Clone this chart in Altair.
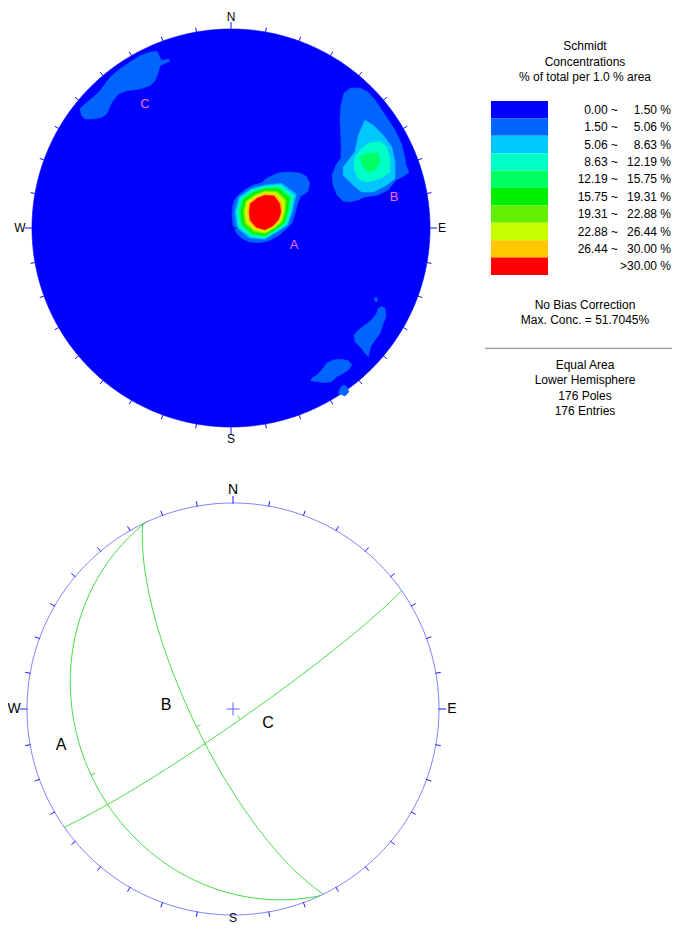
import numpy as np
import pandas as pd
import altair as alt

# ------------------------------------------------------------------ data
# concentration classes (legend), colours and text
LEVEL_COLORS = ["#0000ff", "#0064ff", "#00c8ff", "#00ffc8", "#00ff64",
                "#00ee00", "#64ee00", "#c8ff00", "#ffc800", "#ff0000"]
LEVEL_TEXT_LEFT = ["0.00 ~", "1.50 ~", "5.06 ~", "8.63 ~", "12.19 ~",
                   "15.75 ~", "19.31 ~", "22.88 ~", "26.44 ~", ""]
LEVEL_TEXT_RIGHT = ["1.50 %", "5.06 %", "8.63 %", "12.19 %", "15.75 %",
                    "19.31 %", "22.88 %", "26.44 %", "30.00 %", ">30.00 %"]
LEGEND_HEAD = ["Schmidt", "Concentrations", "% of total per 1.0 % area"]
LEGEND_MID = ["No Bias Correction", "Max. Conc. = 51.7045%"]
LEGEND_FOOT = ["Equal Area", "Lower Hemisphere", "176 Poles", "176 Entries"]

# contour outlines, net coordinates in % of net radius (x east, y north)
# cluster A: peak centre and contour radii at bearings 0,30,...,330 (ccw from east)
A_CENTER = (17.1, 8.0)
A_BEARINGS = [0, 30, 60, 90, 120, 150, 180, 210, 240, 270, 300, 330]
A_R_L9 = [8.0, 8.5, 9.3, 8.5, 8.0, 8.5, 8.0, 8.5, 8.8, 8.9, 8.0, 7.8]
A_R_L8 = [8.8, 9.8, 10.3, 9.3, 8.8, 9.5, 9.0, 9.5, 9.8, 9.5, 8.5, 8.5]
A_R_L7 = [9.5, 11.3, 11.3, 10.1, 9.5, 10.6, 10.1, 10.8, 10.6, 10.3, 9.0, 9.3]
A_R_L6 = [10.3, 12.6, 12.3, 10.8, 10.3, 11.3, 11.1, 11.8, 11.6, 10.9, 9.5, 10.1]
A_R_L5 = [11.1, 14.1, 13.3, 11.6, 11.1, 12.3, 12.1, 12.8, 12.3, 11.6, 10.1, 10.8]
A_R_L4 = [12.1, 15.3, 14.6, 12.1, 12.1, 13.3, 13.1, 13.8, 13.3, 12.3, 10.6, 11.6]
A_R_L3 = [12.8, 16.6, 15.6, 12.8, 12.8, 14.1, 14.1, 15.1, 14.1, 12.9, 11.1, 12.3]
A_R_L2 = [13.6, 18.1, 16.6, 13.6, 13.6, 15.1, 15.1, 16.1, 15.1, 13.6, 11.6, 13.1]
A_L1 = [(0.5, 6.7), (1.0, 11.7), (1.9, 14.2), (4.4, 17.1), (7.7, 19.7), (11.1, 21.5),
        (15.2, 22.6), (18.2, 25.1), (23.6, 27.6), (28.6, 28.1), (34.5, 27.6), (37.8, 26.0),
        (39.5, 22.6), (38.7, 18.4), (35.0, 15.9), (33.3, 11.7), (32.0, 6.7), (30.7, 2.5),
        (27.3, -0.9), (23.6, -4.0), (18.6, -6.5), (14.4, -7.3), (9.4, -7.0), (5.2, -5.0),
        (2.7, -2.5), (1.0, 1.7)]
B_L1 = [(56.8, 67.8), (59.8, 70.1), (64.8, 70.4), (68.8, 68.3), (72.4, 64.3), (77.4, 56.8),
        (82.4, 49.2), (85.9, 41.7), (87.4, 35.2), (87.9, 31.7), (89.4, 28.1), (86.9, 26.1),
        (82.9, 24.1), (78.9, 19.1), (73.9, 16.6), (67.3, 15.6), (63.8, 14.1), (59.8, 13.1),
        (56.3, 13.6), (53.3, 16.6), (51.3, 21.6), (50.8, 26.6), (52.8, 31.7), (55.3, 35.2),
        (55.3, 44.2), (54.8, 54.3), (55.3, 61.8)]
B_L2 = [(67.3, 54.1), (64.0, 46.6), (62.3, 38.2), (56.4, 30.7), (56.4, 26.5), (61.5, 21.5),
        (65.7, 18.1), (71.5, 18.1), (78.2, 21.5), (82.4, 24.8), (82.4, 33.2), (80.8, 40.7),
        (76.5, 46.6), (71.5, 51.6)]
B_L3 = [(62.3, 35.7), (64.8, 39.0), (69.0, 42.4), (74.9, 43.6), (78.2, 40.7), (79.9, 34.8),
        (79.9, 28.1), (74.9, 24.8), (68.2, 23.1), (64.0, 24.8), (61.8, 29.8)]
B_L4 = [(64.8, 35.7), (68.2, 37.3), (74.0, 37.8), (74.9, 33.2), (72.4, 29.0), (69.0, 28.1),
        (66.2, 30.7)]
C_L1 = [(-75.9, 59.8), (-73.4, 62.3), (-69.2, 65.7), (-65.8, 69.0), (-60.8, 75.7), (-55.8, 79.9),
        (-50.8, 83.3), (-45.7, 86.6), (-40.7, 88.3), (-37.3, 88.8), (-35.7, 85.8), (-34.8, 84.1),
        (-31.5, 84.9), (-30.7, 83.8), (-35.7, 81.6), (-36.5, 78.2), (-38.2, 74.0), (-40.7, 71.5),
        (-45.7, 69.8), (-52.4, 69.0), (-56.6, 67.3), (-59.9, 63.2), (-62.5, 57.3), (-65.0, 55.6),
        (-69.2, 54.8), (-73.4, 54.8), (-75.0, 56.4)]
SE_L1_a = [(75.7, -39.5), (77.4, -40.4), (77.9, -44.6), (76.5, -47.9), (74.9, -52.9), (72.4, -56.3),
           (70.2, -59.6), (69.0, -64.6), (67.3, -63.0), (65.7, -60.5), (62.3, -57.1), (61.8, -53.8),
           (64.0, -51.3), (67.3, -48.7), (70.7, -46.2), (73.2, -42.9), (74.0, -40.4)]
SE_L1_b = [(71.9, -35.2), (73.4, -34.9), (73.6, -36.9), (72.4, -36.9)]
SE_L1_c = [(40.6, -75.5), (43.1, -73.9), (45.6, -71.4), (48.1, -68.0), (51.4, -66.3), (55.6, -66.0),
           (58.9, -66.7), (60.7, -68.8), (58.9, -71.4), (56.4, -73.0), (53.1, -74.7), (50.6, -77.2),
           (47.2, -77.7), (43.1, -77.2), (40.1, -76.7)]
SE_L1_d = [(53.9, -83.1), (54.8, -80.6), (56.4, -78.9), (58.1, -79.7), (59.3, -82.3), (57.3, -84.4)]

# cluster labels on the contour plot (net %)
SET_NAMES = ["A", "B", "C"]
SET_LABEL_X = [31.7, 81.9, -43.2]
SET_LABEL_Y = [-8.5, 15.7, 62.3]

# planes (great circles) of the lower plot
PLANE_DIP_DIR = [245, 244, 145]
PLANE_DIP = [25, 74, 85]
PLANE_LABEL_X = [-83.5, -32.5, 17.0]
PLANE_LABEL_Y = [-17.5, 1.9, -6.8]

CARDINALS = ["N", "E", "S", "W"]
CARDINAL_AZ = [0, 90, 180, 270]

# ------------------------------------------------------------------ layout
W, H = 664, 917
TOP_C, TOP_R = (223.0, 220.0), 199.0
BOT_C, BOT_R = (225.0, 701.0), 206.0
FONT = "Liberation Sans"

XS = alt.Scale(domain=[0, W], nice=False, zero=False)
YS = alt.Scale(domain=[0, H], nice=False, zero=False, reverse=True)


def X(f="x"):
    return alt.X(f"{f}:Q", scale=XS, axis=None)


def Y(f="y"):
    return alt.Y(f"{f}:Q", scale=YS, axis=None)


def net_px(c, r, x, y):
    x = np.asarray(x, float)
    y = np.asarray(y, float)
    return c[0] + r * x / 100.0, c[1] - r * y / 100.0


def poly_layer(df, color):
    return alt.Chart(df).mark_line(
        interpolate="linear-closed", fill=color, stroke=color, strokeWidth=0.6
    ).encode(x=X(), y=Y(), order="i:Q", detail="pid:N")


def text_layer(df, size, color="black", align="center", baseline="middle"):
    return alt.Chart(df).mark_text(
        font=FONT, fontSize=size, color=color, align=align, baseline=baseline
    ).encode(x=X(), y=Y(), text="t:N")


layers = []

# ---- top: contour plot
ang = np.radians(np.arange(0, 360, 1.0))
disc = pd.DataFrame({"x": TOP_C[0] + TOP_R * np.cos(ang),
                     "y": TOP_C[1] - TOP_R * np.sin(ang),
                     "i": np.arange(len(ang)), "pid": "disc"})
layers.append(poly_layer(disc, LEVEL_COLORS[0]))

polys = {lvl: [] for lvl in range(1, 10)}
polys[1] += [A_L1, B_L1, C_L1, SE_L1_a, SE_L1_b, SE_L1_c, SE_L1_d]
polys[2] += [B_L2]
polys[3] += [B_L3]
polys[4] += [B_L4]
a_rings = {2: A_R_L2, 3: A_R_L3, 4: A_R_L4, 5: A_R_L5, 6: A_R_L6,
           7: A_R_L7, 8: A_R_L8, 9: A_R_L9}
brg = np.radians(A_BEARINGS)
for lvl, rr in a_rings.items():
    rr = np.asarray(rr)
    polys[lvl].append(list(zip(A_CENTER[0] + rr * np.cos(brg), A_CENTER[1] + rr * np.sin(brg))))

for lvl in range(1, 10):
    rows = []
    for k, pts in enumerate(polys[lvl]):
        px, py = net_px(TOP_C, TOP_R, [p[0] for p in pts], [p[1] for p in pts])
        for i, (a, b) in enumerate(zip(px, py)):
            rows.append({"x": a, "y": b, "i": i, "pid": f"{lvl}_{k}"})
    layers.append(poly_layer(pd.DataFrame(rows), LEVEL_COLORS[lvl]))

# centre mark of the contour plot
cross_top = pd.DataFrame({"x": [TOP_C[0] - 6.5, TOP_C[0]], "x2": [TOP_C[0] + 6.5, TOP_C[0]],
                          "y": [TOP_C[1], TOP_C[1] - 6.5], "y2": [TOP_C[1], TOP_C[1] + 6.5]})
layers.append(alt.Chart(cross_top).mark_rule(color="#0000c8", strokeWidth=1).encode(
    x=X(), x2="x2:Q", y=Y(), y2="y2:Q"))


def tick_df(c, r, r_in, r_out_minor, r_out_major, skip=()):
    az = np.array([a for a in range(0, 360, 10) if a not in skip])
    rout = np.where(az % 90 == 0, r + r_out_major, r + r_out_minor)
    a = np.radians(az)
    return pd.DataFrame({"x": c[0] + (r + r_in) * np.sin(a), "y": c[1] - (r + r_in) * np.cos(a),
                         "x2": c[0] + rout * np.sin(a), "y2": c[1] - rout * np.cos(a)})


layers.append(alt.Chart(tick_df(TOP_C, TOP_R, -0.5, 4.5, 7.0)).mark_rule(
    color="#1010ff", strokeWidth=1).encode(x=X(), x2="x2:Q", y=Y(), y2="y2:Q"))

caz = np.radians(CARDINAL_AZ)
card_top = pd.DataFrame({"x": TOP_C[0] + (TOP_R + 12) * np.sin(caz),
                         "y": TOP_C[1] - (TOP_R + 12) * np.cos(caz), "t": CARDINALS})
layers.append(text_layer(card_top, 12))

lx, ly = net_px(TOP_C, TOP_R, SET_LABEL_X, SET_LABEL_Y)
layers.append(text_layer(pd.DataFrame({"x": lx, "y": ly, "t": SET_NAMES}), 13, color="#f070f0"))

# ---- bottom: great circles
circ = pd.DataFrame({"x": BOT_C[0] + BOT_R * np.cos(ang), "y": BOT_C[1] - BOT_R * np.sin(ang),
                     "i": np.arange(len(ang)), "pid": "prim"})
layers.append(alt.Chart(circ).mark_line(interpolate="linear-closed", stroke="#8080ff",
                                        strokeWidth=1).encode(x=X(), y=Y(), order="i:Q", detail="pid:N"))
layers.append(alt.Chart(tick_df(BOT_C, BOT_R, -0.5, 5.0, 7.0, skip=(180,))).mark_rule(
    color="#1a1aff", strokeWidth=1).encode(x=X(), x2="x2:Q", y=Y(), y2="y2:Q"))

cross_bot = pd.DataFrame({"x": [BOT_C[0] - 6.5, BOT_C[0]], "x2": [BOT_C[0] + 6.5, BOT_C[0]],
                          "y": [BOT_C[1], BOT_C[1] - 6.5], "y2": [BOT_C[1], BOT_C[1] + 6.5]})
layers.append(alt.Chart(cross_bot).mark_rule(color="#6060ff", strokeWidth=1).encode(
    x=X(), x2="x2:Q", y=Y(), y2="y2:Q"))


def plane_curve(dd, dip):
    t = np.radians(np.arange(0, 180.5, 1.0))
    sa, d, dp = np.radians(dd - 90), np.radians(dd), np.radians(dip)
    s = np.array([np.sin(sa), np.cos(sa), 0.0])
    v = np.array([np.sin(d) * np.cos(dp), np.cos(d) * np.cos(dp), np.sin(dp)])
    L = np.outer(np.cos(t), s) + np.outer(np.sin(t), v)
    k = 1.0 / np.sqrt(1.0 + L[:, 2])
    return L[:, 0] * k, L[:, 1] * k, v


gc_rows, dip_ticks = [], []
for name, dd, dp in zip(SET_NAMES, PLANE_DIP_DIR, PLANE_DIP):
    e, n, v = plane_curve(dd, dp)
    px, py = BOT_C[0] + BOT_R * e, BOT_C[1] - BOT_R * n
    for i, (a, b) in enumerate(zip(px, py)):
        gc_rows.append({"x": a, "y": b, "i": i, "pid": name})
    k0 = 1.0 / np.sqrt(1.0 + v[2])
    ex, ny = v[0] * k0, v[1] * k0
    norm = np.hypot(ex, ny)
    x0, y0 = BOT_C[0] + BOT_R * ex, BOT_C[1] - BOT_R * ny
    dip_ticks.append({"x": x0, "y": y0, "x2": x0 - 4.5 * ex / norm, "y2": y0 + 4.5 * ny / norm})

layers.append(alt.Chart(pd.DataFrame(gc_rows)).mark_line(stroke="#40dc40", strokeWidth=1).encode(
    x=X(), y=Y(), order="i:Q", detail="pid:N"))
layers.append(alt.Chart(pd.DataFrame(dip_ticks)).mark_rule(color="#40dc40", strokeWidth=1).encode(
    x=X(), x2="x2:Q", y=Y(), y2="y2:Q"))

card_bot = pd.DataFrame({"x": BOT_C[0] + (BOT_R + 13) * np.sin(caz),
                         "y": BOT_C[1] - (BOT_R + 13) * np.cos(caz), "t": CARDINALS})
card_bot_main = card_bot[card_bot["t"] != "S"]
layers.append(text_layer(card_bot_main, 14))
# the south label sits just under the net, kept inside the page
south = pd.DataFrame({"x": [BOT_C[0]], "y": [H - 0.5], "t": ["S"]})
layers.append(text_layer(south, 12, baseline="bottom"))
px, py = net_px(BOT_C, BOT_R, PLANE_LABEL_X, PLANE_LABEL_Y)
layers.append(text_layer(pd.DataFrame({"x": px, "y": py, "t": SET_NAMES}), 16))

# ---- legend
LEG_CX = 577.0
BOX_X0, BOX_X1, BOX_Y0, BOX_H = 483.0, 540.0, 93.0, 17.4
n = len(LEVEL_COLORS)
boxes = pd.DataFrame({"x": [BOX_X0] * n, "x2": [BOX_X1] * n,
                      "y": [BOX_Y0 + i * BOX_H for i in range(n)],
                      "y2": [BOX_Y0 + (i + 1) * BOX_H for i in range(n)],
                      "lvl": [str(i) for i in range(n)]})
layers.append(alt.Chart(boxes).mark_rect().encode(
    x=X(), x2="x2:Q", y=Y(), y2="y2:Q",
    fill=alt.Fill("lvl:N", scale=alt.Scale(domain=[str(i) for i in range(n)], range=LEVEL_COLORS),
                  legend=None)))
rows_y = [BOX_Y0 + (i + 0.5) * BOX_H for i in range(n)]
left = pd.DataFrame({"x": [610.0] * n, "y": rows_y, "t": LEVEL_TEXT_LEFT})
left = left[left["t"] != ""]
layers.append(text_layer(left, 12, align="right"))
layers.append(text_layer(pd.DataFrame({"x": [663.0] * n, "y": rows_y, "t": LEVEL_TEXT_RIGHT}), 12,
                         align="right"))
head = pd.DataFrame({"x": [LEG_CX] * 3, "y": [38.0, 53.5, 69.0], "t": LEGEND_HEAD})
mid = pd.DataFrame({"x": [LEG_CX] * 2, "y": [297.0, 312.0], "t": LEGEND_MID})
foot = pd.DataFrame({"x": [LEG_CX] * 4, "y": [357.0, 372.3, 387.6, 403.0], "t": LEGEND_FOOT})
for d in (head, mid, foot):
    layers.append(text_layer(d, 12))
layers.append(alt.Chart(pd.DataFrame({"x": [477.0], "x2": [664.0], "y": [340.3]})).mark_rule(
    color="#808080", strokeWidth=1).encode(x=X(), x2="x2:Q", y=Y()))

chart = alt.layer(*layers).properties(
    width=W, height=H, padding=0, autosize="none", background="white"
).configure_view(strokeWidth=0)

chart.save("out.html", embed_options={"renderer": "svg", "actions": False})
